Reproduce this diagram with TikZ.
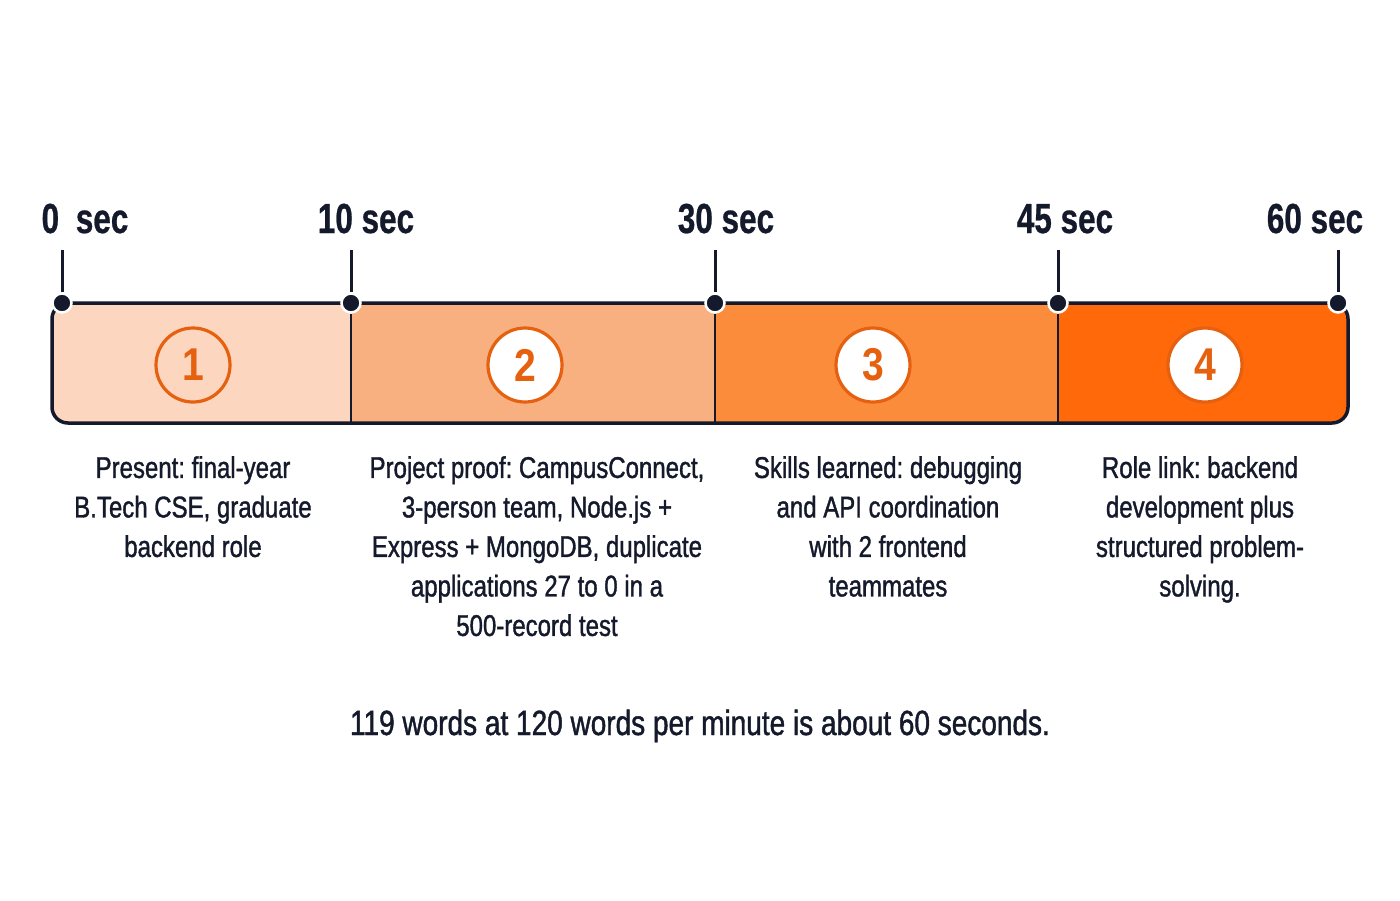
\documentclass[tikz,border=0pt]{standalone}
\usepackage{fontspec}
\setmainfont{Liberation Sans}[FakeStretch=0.8, FakeBold=1.2]
\newfontfamily\boldcond{Liberation Sans Bold}[FakeStretch=0.75, FakeBold=0.6]
\newfontfamily\numfont{Liberation Sans Bold}[FakeStretch=0.85]
\frenchspacing
\definecolor{ink}{HTML}{141A2B}
\definecolor{segA}{HTML}{FCD6BE}
\definecolor{segB}{HTML}{F9B080}
\definecolor{segC}{HTML}{FA8C3C}
\definecolor{segD}{HTML}{FF690A}
\definecolor{ring}{HTML}{E5600F}
\tikzset{
  timelbl/.style={font=\boldcond\fontsize{42}{46}\selectfont, text=ink, anchor=base, inner sep=0},
  tickline/.style={draw=ink, line width=3pt},
  dotnode/.style={circle, fill=ink, draw=white, line width=2.5pt, minimum size=19pt, inner sep=0},
  barline/.style={draw=ink, line width=3.5pt},
  divline/.style={draw=ink, line width=2.5pt},
  numcirc/.style={circle, draw=ring, line width=3.2pt, minimum size=74pt, inner sep=0,
     text=ring, font=\numfont\fontsize{46}{50}\selectfont},
  desc/.style={font=\fontsize{30}{39.5}\selectfont, text=ink, align=center, anchor=north, inner sep=0},
}
\begin{document}
\begin{tikzpicture}[x=1pt,y=-1pt]
\useasboundingbox (0,0) rectangle (1400,900);
\fill[white] (0,0) rectangle (1400,900);
% bar segments
\begin{scope}
\clip[rounded corners=16pt] (52,303) rectangle (1348,423);
\fill[segA] (52,303) rectangle (351,423);
\fill[segB] (351,303) rectangle (715,423);
\fill[segC] (715,303) rectangle (1058,423);
\fill[segD] (1058,303) rectangle (1348,423);
\end{scope}
\draw[barline, rounded corners=16pt] (52,303) rectangle (1348,423);
% divider feet
\coordinate (b1) at (351,423);
\coordinate (b2) at (715,423);
\coordinate (b3) at (1058,423);
% tick tops
\coordinate (t0) at (62,250);
\coordinate (t1) at (351,250);
\coordinate (t2) at (715,250);
\coordinate (t3) at (1058,250);
\coordinate (t4) at (1338,250);
\node[dotnode] (d0) at (62,303) {};
\node[dotnode] (d1) at (351,303) {};
\node[dotnode] (d2) at (715,303) {};
\node[dotnode] (d3) at (1058,303) {};
\node[dotnode] (d4) at (1338,303) {};
\draw[divline] (d1.south) -- (b1);
\draw[divline] (d2.south) -- (b2);
\draw[divline] (d3.south) -- (b3);
\draw[tickline] (t0) -- (d0.north);
\draw[tickline] (t1) -- (d1.north);
\draw[tickline] (t2) -- (d2.north);
\draw[tickline] (t3) -- (d3.north);
\draw[tickline] (t4) -- (d4.north);
% time labels
\node[timelbl] (l0) at (85,233) {0\hspace{8pt} sec};
\node[timelbl] (l1) at (366,233) {10 sec};
\node[timelbl] (l2) at (726,233) {30 sec};
\node[timelbl] (l3) at (1065,233) {45 sec};
\node[timelbl] (l4) at (1315,233) {60 sec};
% number circles
\node[numcirc, fill=segA] (c1) at (193,365) {1};
\node[numcirc, fill=white] (c2) at (525,365) {2};
\node[numcirc, fill=white] (c3) at (873,365) {3};
\node[numcirc, fill=white] (c4) at (1205,365) {4};
% descriptions
\node[desc] (x1) at (193,456) {Present: final-year\\B.Tech CSE, graduate\\backend role};
\node[desc] (x2) at (537,456) {Project proof: CampusConnect,\\3-person team, Node.js +\\Express + MongoDB, duplicate\\applications 27 to 0 in a\\500-record test};
\node[desc] (x3) at (888,456) {Skills learned: debugging\\and API coordination\\with 2 frontend\\teammates};
\node[desc] (x4) at (1200,456) {Role link: backend\\development plus\\structured problem-\\solving.};
% footer
\node[font=\fontsize{35}{40}\selectfont, text=ink, anchor=base, inner sep=0] (foot) at (700,735) {119 words at 120 words per minute is about 60 seconds.};
\end{tikzpicture}
\end{document}
